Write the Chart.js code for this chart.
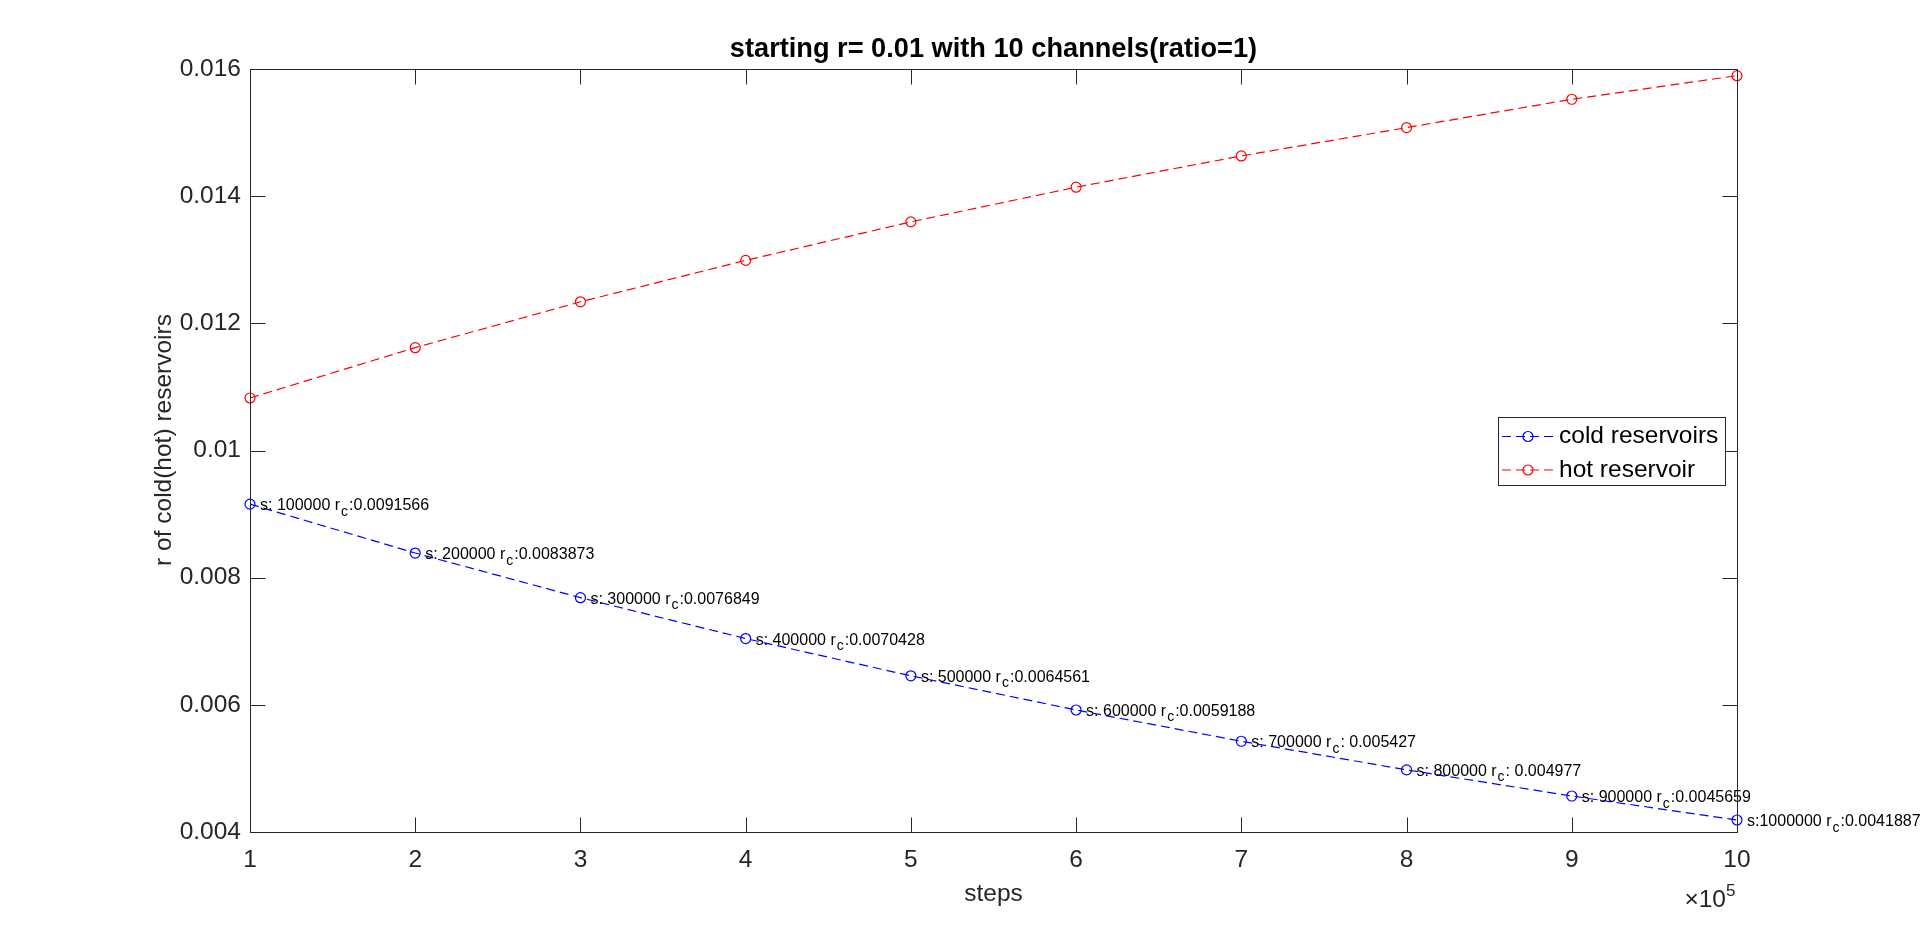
<!DOCTYPE html>
<html><head><meta charset="utf-8">
<script src="https://cdn.jsdelivr.net/npm/chart.js@4.4.1/dist/chart.umd.min.js"></script>
<style>html,body{margin:0;padding:0;background:#fff;overflow:hidden}#wrap{width:1920px;height:936px;position:relative}canvas{display:block}</style>
</head><body><div id="wrap"><canvas id="c" width="1920" height="936"></canvas></div>
<script>
// ---- data ----
const steps = [1, 2, 3, 4, 5, 6, 7, 8, 9, 10];
const stepCounts = [100000, 200000, 300000, 400000, 500000, 600000, 700000, 800000, 900000, 1000000];
const coldValues = [0.0091566, 0.0083873, 0.0076849, 0.0070428, 0.0064561, 0.0059188, 0.005427, 0.004977, 0.0045659, 0.0041887];
const hotValues = [0.010826, 0.011617, 0.012339, 0.012990, 0.013596, 0.014141, 0.014633, 0.015078, 0.015524, 0.015895];
const xTicks = [1, 2, 3, 4, 5, 6, 7, 8, 9, 10];
const xTickLabels = ['1', '2', '3', '4', '5', '6', '7', '8', '9', '10'];
const yTicks = [0.004, 0.006, 0.008, 0.010, 0.012, 0.014, 0.016];
const yTickLabels = ['0.004', '0.006', '0.008', '0.01', '0.012', '0.014', '0.016'];
const seriesNames = ['cold reservoirs', 'hot reservoir'];
const titleText = 'starting r= 0.01 with 10 channels(ratio=1)';
const xLabelText = 'steps';
const yLabelText = 'r of cold(hot) reservoirs';

const FONT = '"Liberation Sans", Arial, Helvetica, sans-serif';
const AX = 'rgb(38,38,38)';
const DASH = [9, 5];

function fmtR(v) { return Number(v.toPrecision(5)).toString().padStart(9, ' '); }
function fmtS(n) { return String(n).padStart(7, ' '); }

const matlabPlugin = {
  id: 'matlab',
  afterDatasetsDraw(chart) {
    const ctx = chart.ctx;
    const a = chart.chartArea;
    const xs = chart.scales.x, ys = chart.scales.y;
    ctx.save();
    // annotations on cold series
    const meta = chart.getDatasetMeta(0);
    ctx.fillStyle = '#000';
    meta.data.forEach((pt, i) => {
      const x0 = pt.x + 10, y0 = pt.y;
      const p1 = 's:' + fmtS(stepCounts[i]) + ' r';
      const p3 = ':' + fmtR(coldValues[i]);
      ctx.textAlign = 'left';
      ctx.textBaseline = 'alphabetic';
      ctx.font = '16px ' + FONT;
      ctx.fillText(p1, x0, y0 + 6);
      let w = ctx.measureText(p1).width + 1;
      ctx.font = '14px ' + FONT;
      ctx.fillText('c', x0 + w, y0 + 11.5);
      w += ctx.measureText('c').width + 1;
      ctx.font = '16px ' + FONT;
      ctx.fillText(p3, x0 + w, y0 + 6);
    });

    // box
    ctx.strokeStyle = AX;
    ctx.lineWidth = 1;
    const L = Math.round(a.left) + 0.5, R = Math.round(a.right) + 0.5;
    const T = Math.round(a.top) + 0.5, B = Math.round(a.bottom) + 0.5;
    ctx.strokeRect(L, T, R - L, B - T);
    const TL = 15;
    ctx.beginPath();
    xTicks.forEach(v => {
      const px = Math.round(xs.getPixelForValue(v)) + 0.5;
      ctx.moveTo(px, B); ctx.lineTo(px, B - TL);
      ctx.moveTo(px, T); ctx.lineTo(px, T + TL);
    });
    yTicks.forEach(v => {
      const py = Math.round(ys.getPixelForValue(v)) + 0.5;
      ctx.moveTo(L, py); ctx.lineTo(L + TL, py);
      ctx.moveTo(R, py); ctx.lineTo(R - TL, py);
    });
    ctx.stroke();

    // tick labels
    ctx.fillStyle = AX;
    ctx.font = '24.5px ' + FONT;
    ctx.textAlign = 'center';
    ctx.textBaseline = 'alphabetic';
    xTicks.forEach((v, i) => ctx.fillText(xTickLabels[i], xs.getPixelForValue(v), 867));
    ctx.textAlign = 'right';
    ctx.textBaseline = 'middle';
    yTicks.forEach((v, i) => ctx.fillText(yTickLabels[i], a.left - 9, ys.getPixelForValue(v)));

    // exponent
    ctx.textAlign = 'right';
    ctx.textBaseline = 'alphabetic';
    ctx.font = '24.5px ' + FONT;
    ctx.fillText('\u00d710', 1726, 907);
    ctx.textAlign = 'left';
    ctx.font = '17px ' + FONT;
    ctx.fillText('5', 1726, 896);

    // axis labels
    ctx.font = '24.5px ' + FONT;
    ctx.textAlign = 'center';
    ctx.textBaseline = 'alphabetic';
    ctx.fillText(xLabelText, (a.left + a.right) / 2, 901);
    ctx.save();
    ctx.translate(164, 440);
    ctx.rotate(-Math.PI / 2);
    ctx.textBaseline = 'middle';
    ctx.fillText(yLabelText, 0, 0);
    ctx.restore();

    // title
    ctx.fillStyle = '#000';
    ctx.font = 'bold 27.2px ' + FONT;
    ctx.textAlign = 'center';
    ctx.textBaseline = 'alphabetic';
    ctx.fillText(titleText, (a.left + a.right) / 2, 57);

    // legend
    const lx = 1498.5, ly = 417.5, lw = 227, lh = 68;
    ctx.fillStyle = '#fff';
    ctx.fillRect(lx, ly, lw, lh);
    ctx.strokeStyle = AX;
    ctx.lineWidth = 1;
    ctx.strokeRect(lx, ly, lw, lh);
    chart.data.datasets.forEach((ds, i) => {
      const cy = 436.5 + i * 33.5;
      ctx.strokeStyle = ds.borderColor;
      ctx.lineWidth = ds.borderWidth;
      ctx.setLineDash(DASH);
      ctx.beginPath(); ctx.moveTo(1502, cy); ctx.lineTo(1556, cy); ctx.stroke();
      ctx.setLineDash([]);
      ctx.beginPath(); ctx.arc(1528, cy, 5, 0, Math.PI * 2); ctx.stroke();
      ctx.fillStyle = '#000';
      ctx.font = '24.5px ' + FONT;
      ctx.textAlign = 'left';
      ctx.textBaseline = 'middle';
      ctx.fillText(ds.label, 1559, cy);
    });
    ctx.restore();
  }
};

function makeSeries(label, vals, color) {
  return {
    label: label,
    data: steps.map((s, i) => ({ x: s, y: vals[i] })),
    borderColor: color,
    borderWidth: 1.2,
    borderDash: DASH,
    pointStyle: 'circle',
    pointRadius: 5,
    pointHoverRadius: 5,
    pointBorderWidth: 1.2,
    pointBorderColor: color,
    pointBackgroundColor: 'rgba(0,0,0,0)',
    fill: false,
    tension: 0,
    clip: false
  };
}

new Chart(document.getElementById('c'), {
  type: 'line',
  data: { datasets: [makeSeries(seriesNames[0], coldValues, '#0000ff'), makeSeries(seriesNames[1], hotValues, '#ff0000')] },
  options: {
    responsive: false,
    animation: false,
    devicePixelRatio: 1,
    layout: { padding: { left: 250, top: 69, right: 183, bottom: 104 } },
    scales: {
      x: { type: 'linear', min: 1, max: 10, display: false },
      y: { type: 'linear', min: 0.004, max: 0.016, display: false }
    },
    plugins: { legend: { display: false }, tooltip: { enabled: false }, title: { display: false } },
    events: []
  },
  plugins: [matlabPlugin]
});
</script>
</body></html>
